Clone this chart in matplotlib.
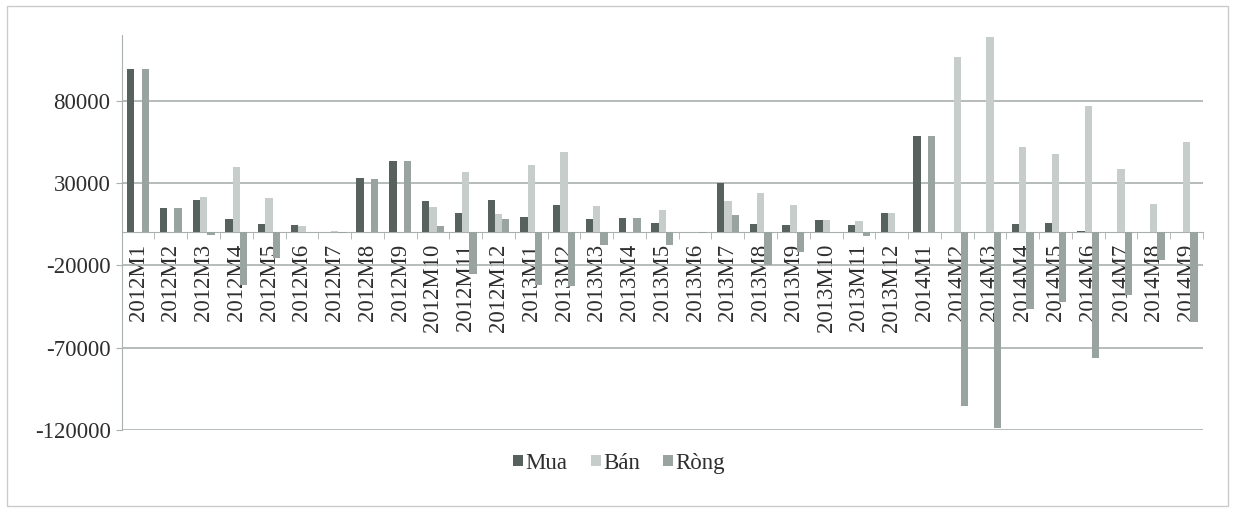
import matplotlib
matplotlib.use("Agg")
import matplotlib.pyplot as plt
import numpy as np
from matplotlib.patches import Rectangle

plt.rcParams['font.family'] = ['Liberation Serif', 'DejaVu Serif']
plt.rcParams['axes.unicode_minus'] = False

months = ["2012M1", "2012M2", "2012M3", "2012M4", "2012M5", "2012M6",
          "2012M7", "2012M8", "2012M9", "2012M10", "2012M11", "2012M12",
          "2013M1", "2013M2", "2013M3", "2013M4", "2013M5", "2013M6",
          "2013M7", "2013M8", "2013M9", "2013M10", "2013M11", "2013M12",
          "2014M1", "2014M2", "2014M3", "2014M4", "2014M5", "2014M6",
          "2014M7", "2014M8", "2014M9"]

mua = [99500, 15000, 19900, 8200, 5300, 4300, 500, 33000, 43500, 18900,
       11800, 19500, 9200, 16800, 8200, 8800, 5700, 300, 30000, 5100,
       4700, 7800, 4700, 11800, 58700, 500, 500, 5300, 5600, 700,
       400, 200, 300]
ban = [300, 200, 21300, 40000, 20900, 3900, 700, 300, 300, 15400,
       37000, 11400, 41100, 49200, 15800, 200, 13400, 500, 18900, 24300,
       16800, 7500, 7100, 11800, 300, 106500, 119000, 51700, 47700, 76800,
       38500, 17400, 54700]
rong = [99200, 14800, -1400, -31800, -15600, 400, -200, 32700, 43200, 3700,
        -25200, 8200, -31900, -32400, -7600, 8800, -7600, -200, 10800, -19500,
        -12000, 300, -2400, 0, 58400, -105500, -118500, -46300, -42000, -76000,
        -38000, -16500, -54200]

fig = plt.figure(figsize=(12.38, 5.12), dpi=100)
ax = fig.add_axes([0.0983, 0.1602, 0.8734, 0.7714])

x = np.arange(len(months))
w = 0.223
ax.bar(x - w, mua, w, color="#57615d", label="Mua", zorder=3)
ax.bar(x, ban, w, color="#c6cdca", label="Bán", zorder=3)
ax.bar(x + w, rong, w, color="#99a39f", label="Ròng", zorder=3)

ax.set_xlim(-0.5, len(months) - 0.5)
ax.set_ylim(-120000, 120000)
ax.set_yticks([80000, 30000, -20000, -70000, -120000])
ax.yaxis.grid(True, color="#a9b0ad", linewidth=1.2, zorder=0)
ax.tick_params(axis="y", labelsize=16.5, length=4, color="#a9b0ad",
               colors="#2e2e2e", pad=4)

ax.spines["bottom"].set_position(("data", 0))
ax.spines["bottom"].set_color("#a9b0ad")
ax.spines["left"].set_color("#a9b0ad")
ax.spines["top"].set_visible(False)
ax.spines["right"].set_visible(False)
ax.set_xticks(x)
ax.set_xticklabels(months, rotation=90, fontsize=16.5, color="#2e2e2e")
ax.set_xticks(np.arange(len(months) + 1) - 0.5, minor=True)
ax.tick_params(axis="x", which="major", length=0, pad=8)
ax.tick_params(axis="x", which="minor", length=5, color="#a9b0ad")

fig.legend(loc="center", bbox_to_anchor=(0.5, 0.095), ncol=3,
           frameon=False, fontsize=16.5, handlelength=0.45, handleheight=0.35,
           handletextpad=0.1, columnspacing=1.0, labelcolor="#2e2e2e")

fig.patches.append(Rectangle((0.006, 0.012), 0.986, 0.976,
                             transform=fig.transFigure, fill=False,
                             edgecolor="#c8cccb", linewidth=1))

fig.savefig("out.png", dpi=100)
